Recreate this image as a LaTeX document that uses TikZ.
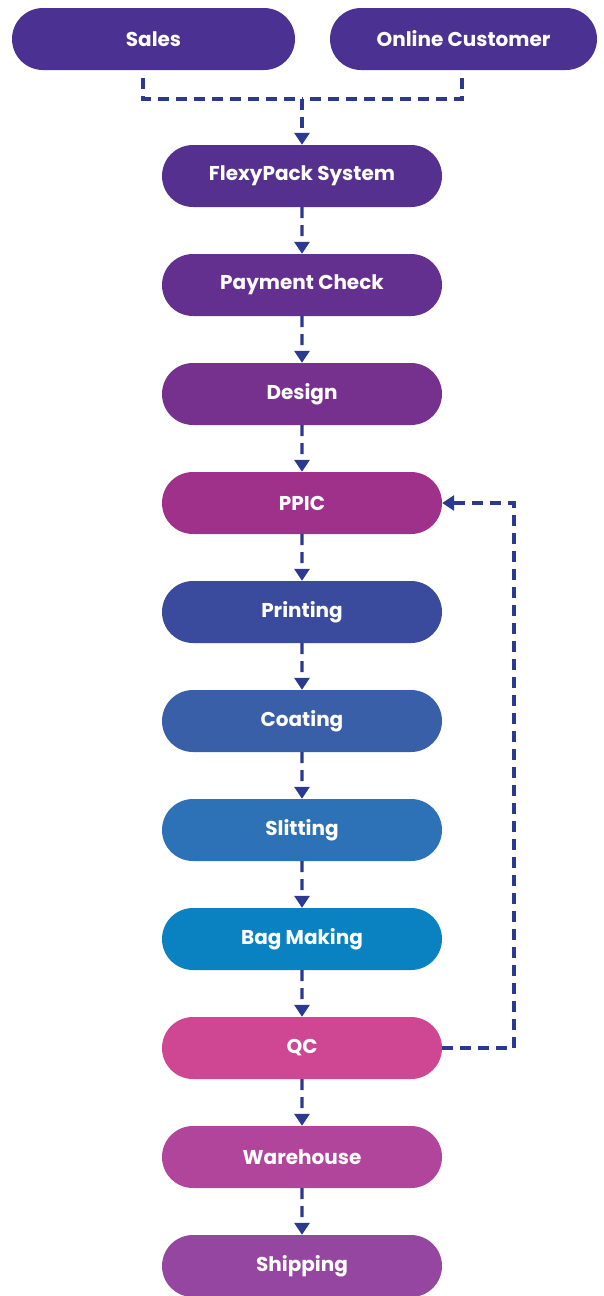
\documentclass[tikz,border=0pt]{standalone}
\usepackage{fontspec}
\setmainfont{Poppins}
\usetikzlibrary{arrows.meta,shapes.misc}
\definecolor{cSales}{HTML}{4B3191}
\definecolor{cFlexy}{HTML}{56308F}
\definecolor{cPay}{HTML}{63308F}
\definecolor{cDesign}{HTML}{76318F}
\definecolor{cPPIC}{HTML}{A0318A}
\definecolor{cPrint}{HTML}{3A4A9C}
\definecolor{cCoat}{HTML}{385FA8}
\definecolor{cSlit}{HTML}{2D72B6}
\definecolor{cBag}{HTML}{0A82C2}
\definecolor{cQC}{HTML}{CF4793}
\definecolor{cWare}{HTML}{B0459B}
\definecolor{cShip}{HTML}{9546A1}
\definecolor{cArrow}{HTML}{2B3990}
\tikzset{
  box/.style={rounded rectangle, minimum height=62pt, minimum width=280pt, inner sep=0pt,
    text=white, font=\bfseries\fontsize{20}{24}\selectfont, draw=none},
  flow/.style={draw=cArrow, line width=3.2pt, dash pattern=on 11pt off 7pt,
    -{Triangle[width=15pt,length=12pt]}},
  plain/.style={draw=cArrow, line width=3.2pt, dash pattern=on 11pt off 7pt}
}
\begin{document}
\begin{tikzpicture}[x=1pt,y=-1pt]
\useasboundingbox (0,0) rectangle (603,1296);
\node[box, fill=cSales, minimum width=283pt] (sales) at (153.5,39) {Sales};
\node[box, fill=cSales, minimum width=267pt] (online) at (463.5,39) {Online Customer};
\node[box, fill=cFlexy] (flexy) at (302,176) {FlexyPack System};
\node[box, fill=cPay] (pay) at (302,285) {Payment Check};
\node[box, fill=cDesign] (design) at (302,394) {Design};
\node[box, fill=cPPIC] (ppic) at (302,503) {PPIC};
\node[box, fill=cPrint] (print) at (302,612) {Printing};
\node[box, fill=cCoat] (coat) at (302,721) {Coating};
\node[box, fill=cSlit] (slit) at (302,830) {Slitting};
\node[box, fill=cBag] (bag) at (302,939) {Bag Making};
\node[box, fill=cQC] (qc) at (302,1048) {QC};
\node[box, fill=cWare] (ware) at (302,1157) {Warehouse};
\node[box, fill=cShip] (ship) at (302,1266) {Shipping};
\coordinate (sl) at (143,78);
\coordinate (sr) at (462,78);
\coordinate (jn) at (302,99);
\draw[plain] (sl) |- (jn);
\draw[plain] (sr) |- (jn);
\draw[flow] (jn) -- (flexy.north);
\draw[flow] (flexy) -- (pay);
\draw[flow] (pay) -- (design);
\draw[flow] (design) -- (ppic);
\draw[flow] (ppic) -- (print);
\draw[flow] (print) -- (coat);
\draw[flow] (coat) -- (slit);
\draw[flow] (slit) -- (bag);
\draw[flow] (bag) -- (qc);
\draw[flow] (qc) -- (ware);
\draw[flow] (ware) -- (ship);
\coordinate (fb) at (514,0);
\draw[flow] (qc.east) -- (qc.east -| fb) -- (ppic.east -| fb) -- (ppic.east);
\end{tikzpicture}
\end{document}
